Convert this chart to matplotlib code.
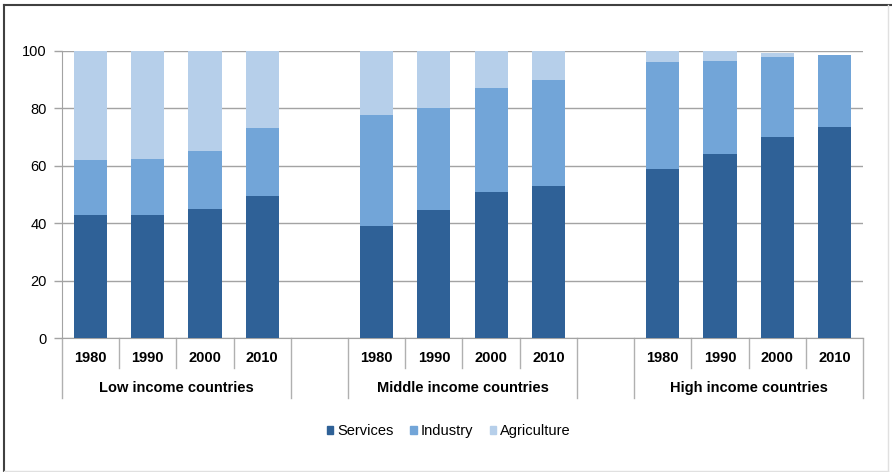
import numpy as np
import matplotlib.pyplot as plt
from matplotlib.patches import Patch
from matplotlib.lines import Line2D

plt.rcParams['font.family'] = ['Liberation Sans', 'DejaVu Sans']

groups = ['Low income countries', 'Middle income countries', 'High income countries']
years = ['1980', '1990', '2000', '2010']

# share of GDP (%), per group, per year
services = [[43, 43, 45, 49.5],
            [39, 44.5, 51, 53],
            [59, 64, 70, 73.6]]
industry = [[19, 19.5, 20.3, 23.5],
            [38.7, 35.5, 36, 37],
            [37, 32.5, 27.8, 25]]
agriculture = [[38, 37.5, 34.7, 27],
               [22.3, 20, 13, 10],
               [4, 3.5, 1.4, 0]]

c_serv = '#2f6197'
c_ind = '#72a5d8'
c_agr = '#b6cfea'

fig = plt.figure(figsize=(8.92, 4.72), dpi=100)
ax = fig.add_axes([62/892, (472-338)/472, (863-62)/892, 287/472])

# slot positions: 4 bars per group, one empty slot between groups
xpos = []
for g in range(len(groups)):
    xpos.append(np.arange(4) + 0.5 + g*5)

for g in range(len(groups)):
    s = np.array(services[g])
    i = np.array(industry[g])
    a = np.array(agriculture[g])
    ax.bar(xpos[g], s, width=0.58, color=c_serv, zorder=3)
    ax.bar(xpos[g], i, bottom=s, width=0.58, color=c_ind, zorder=3)
    ax.bar(xpos[g], a, bottom=s+i, width=0.58, color=c_agr, zorder=3)

ax.set_xlim(0, 14)
ax.set_ylim(0, 100)
ax.set_yticks([0, 20, 40, 60, 80, 100])
ax.yaxis.grid(True, color='#a3a3a3', linewidth=1.0, zorder=0)
ax.set_xticks([])
ax.tick_params(axis='y', length=6, width=1, color='#a3a3a3', labelsize=10.5, pad=5)
for side in ['top', 'right']:
    ax.spines[side].set_visible(False)
ax.spines['left'].set_color('#a3a3a3')
ax.spines['bottom'].set_color('#a3a3a3')

trans = ax.get_xaxis_transform()
for g in range(len(groups)):
    x0 = g*5
    for k in range(5):
        low = -0.209 if k in (0, 4) else -0.105
        ax.add_line(Line2D([x0+k, x0+k], [0, low], transform=trans, color='#b0b0b0',
                           linewidth=1.0, clip_on=False))
    for k, yr in enumerate(years):
        ax.text(xpos[g][k], -0.07, yr, transform=trans, ha='center', va='center',
                fontsize=10.5, fontweight='bold')
    ax.text(x0 + 2, -0.174, groups[g], transform=trans, ha='center', va='center',
            fontsize=10.5, fontweight='bold')

handles = [Patch(color=c_serv, label='Services'),
           Patch(color=c_ind, label='Industry'),
           Patch(color=c_agr, label='Agriculture')]
fig.legend(handles=handles, loc='center', bbox_to_anchor=(0.503, (472-431)/472), ncol=3,
           frameon=False, fontsize=10.5, handlelength=0.45, handleheight=0.45,
           handletextpad=0.25, columnspacing=1.15)

# outer frame: dark top/left, light bottom/right
fig.add_artist(Line2D([4/892, 4/892], [0, 1-5/472], transform=fig.transFigure, color='#404040', linewidth=1.5))
fig.add_artist(Line2D([4/892, 1], [1-5/472, 1-5/472], transform=fig.transFigure, color='#404040', linewidth=1.5))
fig.add_artist(Line2D([888/892, 888/892], [1/472, 1-5/472], transform=fig.transFigure, color='#e0e0e0', linewidth=1.0))
fig.add_artist(Line2D([4/892, 888/892], [1/472, 1/472], transform=fig.transFigure, color='#e0e0e0', linewidth=1.0))

fig.savefig('out.png', dpi=100)
